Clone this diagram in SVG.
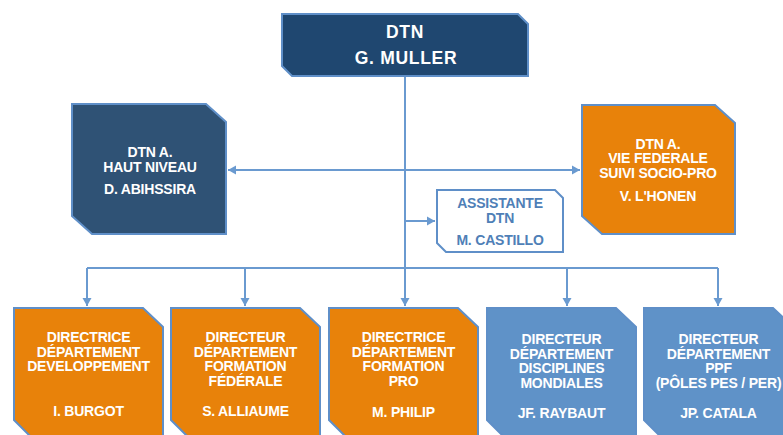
<svg xmlns="http://www.w3.org/2000/svg" width="783" height="435" viewBox="0 0 783 435">
<defs>
<marker id="arr" markerUnits="userSpaceOnUse" markerWidth="9" markerHeight="10" refX="8" refY="5" orient="auto-start-reverse">
<path d="M0,0.5 L8,5 L0,9.5 z" fill="#6a9ad0"/>
</marker>
<style>
.n{stroke:#5f8fc8;stroke-width:2;stroke-linejoin:miter}
.navy{fill:#1f4770}
.slate{fill:#2f5275}
.orange{fill:#e8820a}
.blue{fill:#5f92c8}
.white{fill:#ffffff}
text{font-family:"Liberation Sans",Arial,sans-serif;font-weight:bold;font-size:14px;letter-spacing:-0.2px;text-anchor:middle;fill:#ffffff}
.big{font-size:17.5px;letter-spacing:0.7px}
.dark{fill:#4f7fb7}
.c{fill:none;stroke:#6a9ad0;stroke-width:2}
</style>
</defs>
<rect width="783" height="435" fill="#ffffff"/>
<g id="connectors">
<path class="c" d="M405,76 V306" marker-end="url(#arr)"/>
<path class="c" d="M228,170 H580" marker-start="url(#arr)" marker-end="url(#arr)"/>
<path class="c" d="M405,221 H435" marker-end="url(#arr)"/>
<path class="c" d="M87,268 H718"/>
<path class="c" d="M87,268 V306" marker-end="url(#arr)"/>
<path class="c" d="M245,268 V306" marker-end="url(#arr)"/>
<path class="c" d="M567,268 V306" marker-end="url(#arr)"/>
<path class="c" d="M718,268 V306" marker-end="url(#arr)"/>
</g>
<g id="dtn">
<polygon class="n navy" points="282,14 518,14 528,24 528,76 292,76 282,66"/>
<text class="big" x="405" y="38">DTN</text>
<text class="big" x="406" y="64">G. MULLER</text>
</g>
<g id="haut-niveau">
<polygon class="n slate" points="72,104 206,104 226,122 226,234 92,234 72,216"/>
<text x="150" y="157">DTN A.</text>
<text x="150" y="171.5">HAUT NIVEAU</text>
<text x="150" y="194">D. ABIHSSIRA</text>
</g>
<g id="vie-federale">
<polygon class="n orange" points="582,105 715,105 735,123 735,234 602,234 582,216"/>
<text x="658" y="148.5">DTN A.</text>
<text x="658" y="163">VIE FEDERALE</text>
<text x="658" y="177.5">SUIVI SOCIO-PRO</text>
<text x="658" y="201">V. L'HONEN</text>
</g>
<g id="assistante">
<polygon class="n white" points="437,190 555,190 563,198 563,252 446,252 437,243"/>
<text class="dark" x="500" y="208">ASSISTANTE</text>
<text class="dark" x="500" y="223">DTN</text>
<text class="dark" x="500" y="245">M. CASTILLO</text>
</g>
<g id="developpement">
<polygon class="n orange" points="14,308 143,308 163,327 163,440 34,440 14,420"/>
<text x="88.5" y="342">DIRECTRICE</text>
<text x="88.5" y="356.5">DÉPARTEMENT</text>
<text x="88.5" y="371">DEVELOPPEMENT</text>
<text x="88.5" y="416">I. BURGOT</text>
</g>
<g id="formation-federale">
<polygon class="n orange" points="171,308 300,308 320,327 320,440 191,440 171,420"/>
<text x="245.5" y="342">DIRECTEUR</text>
<text x="245.5" y="356.5">DÉPARTEMENT</text>
<text x="245.5" y="371">FORMATION</text>
<text x="245.5" y="385.5">FÉDÉRALE</text>
<text x="245.5" y="416">S. ALLIAUME</text>
</g>
<g id="formation-pro">
<polygon class="n orange" points="329,308 458,308 478,327 478,440 349,440 329,420"/>
<text x="403.5" y="342">DIRECTRICE</text>
<text x="403.5" y="356.5">DÉPARTEMENT</text>
<text x="403.5" y="371">FORMATION</text>
<text x="403.5" y="385.5">PRO</text>
<text x="403.5" y="416.5">M. PHILIP</text>
</g>
<g id="disciplines-mondiales">
<polygon class="n blue" points="487,308 616,308 636,327 636,440 507,440 487,420"/>
<text x="561.5" y="344">DIRECTEUR</text>
<text x="561.5" y="358.5">DÉPARTEMENT</text>
<text x="561.5" y="373">DISCIPLINES</text>
<text x="561.5" y="387.5">MONDIALES</text>
<text x="561.5" y="418">JF. RAYBAUT</text>
</g>
<g id="ppf">
<polygon class="n blue" points="644,308 773,308 793,327 793,440 664,440 644,420"/>
<text x="718.5" y="344">DIRECTEUR</text>
<text x="718.5" y="358.5">DÉPARTEMENT</text>
<text x="718.5" y="373">PPF</text>
<text x="718.5" y="387.5">(PÔLES PES / PER)</text>
<text x="718.5" y="418">JP. CATALA</text>
</g>
</svg>
